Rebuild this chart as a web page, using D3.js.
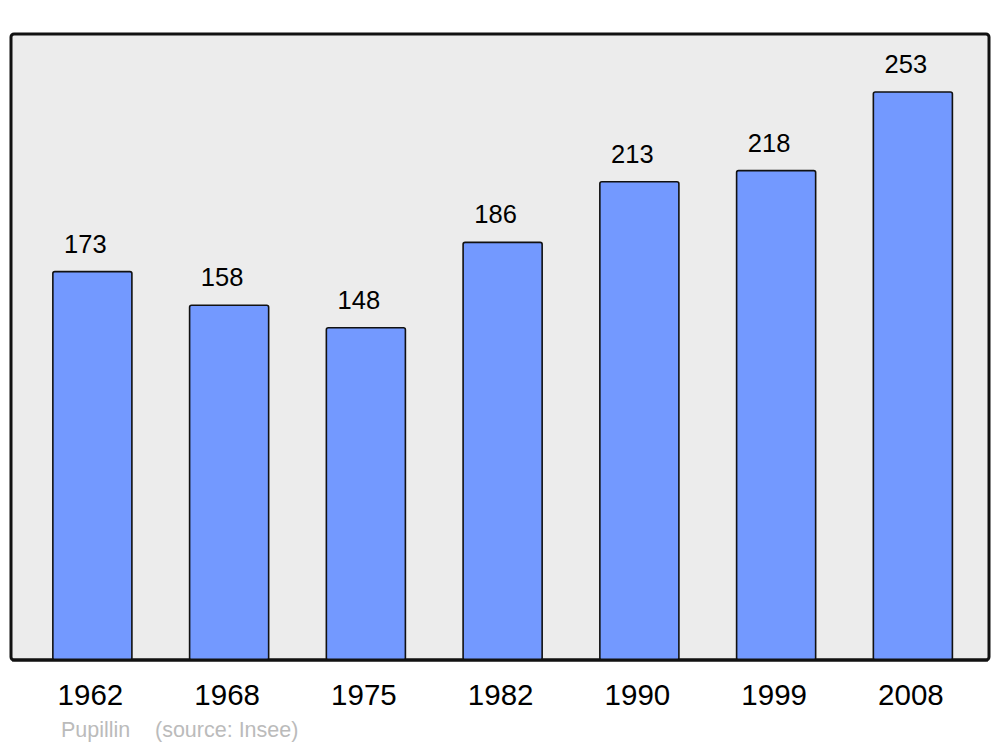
<!DOCTYPE html>
<html>
<head>
<meta charset="utf-8">
<script src="https://cdn.jsdelivr.net/npm/d3@7"></script>
<style>
html,body{margin:0;padding:0;background:#fff;}
svg{display:block;}
</style>
</head>
<body>
<svg id="chart" width="1000" height="747"></svg>
<script>
const years = ["1962","1968","1975","1982","1990","1999","2008"];
const population = [173,158,148,186,213,218,253];
const footerName = "Pupillin";
const footerSource = "(source: Insee)";

const svg = d3.select("#chart");
const panel = {x:11, y:34, w:978, h:626};

svg.append("rect")
  .attr("x", panel.x).attr("y", panel.y)
  .attr("width", panel.w).attr("height", panel.h)
  .attr("rx", 3).attr("ry", 3)
  .attr("fill", "#ececec")
  .attr("stroke", "#111").attr("stroke-width", 3);

const x = d3.scaleBand().domain(years).range([24, 981.25]).paddingInner(0.422).paddingOuter(0.211);
const y = d3.scaleLinear().domain([0, 253]).range([660, 92]);

const data = years.map((yr,i)=>({year:yr, value:population[i]}));

svg.selectAll("rect.bar").data(data).enter().append("rect")
  .attr("class","bar")
  .attr("x", d=>x(d.year))
  .attr("y", d=>y(d.value))
  .attr("width", x.bandwidth())
  .attr("height", d=>y(0)-y(d.value))
  .attr("rx", 2).attr("ry", 2)
  .attr("fill", "#7399ff")
  .attr("stroke", "#111").attr("stroke-width", 1.6);

svg.append("line")
  .attr("x1", panel.x+1).attr("x2", panel.x+panel.w-1)
  .attr("y1", panel.y+panel.h).attr("y2", panel.y+panel.h)
  .attr("stroke","#111").attr("stroke-width",3);

svg.selectAll("text.val").data(data).enter().append("text")
  .attr("class","val")
  .attr("x", d=>x(d.year)+x.bandwidth()/2 - 7)
  .attr("y", d=>y(d.value)-19)
  .attr("text-anchor","middle")
  .attr("font-family","'Liberation Sans', Arial, sans-serif")
  .attr("font-size", 25.5)
  .attr("fill","#000")
  .text(d=>d.value);

const xAxis = d3.axisBottom(x).tickSize(0).tickPadding(0);
const ax = svg.append("g").attr("transform","translate(-2,705)").call(xAxis);
ax.select(".domain").remove();
ax.selectAll("text")
  .attr("dy", 0)
  .attr("y", 0)
  .attr("font-family","'Liberation Sans', Arial, sans-serif")
  .attr("font-size", 29.5)
  .attr("fill","#000");

svg.append("text").attr("x",61).attr("y",737)
  .attr("font-family","'Liberation Sans', Arial, sans-serif")
  .attr("font-size",21.5).attr("fill","#bbbbbb").text(footerName);
svg.append("text").attr("x",155).attr("y",737)
  .attr("font-family","'Liberation Sans', Arial, sans-serif")
  .attr("font-size",21.5).attr("fill","#bbbbbb").text(footerSource);
</script>
</body>
</html>
